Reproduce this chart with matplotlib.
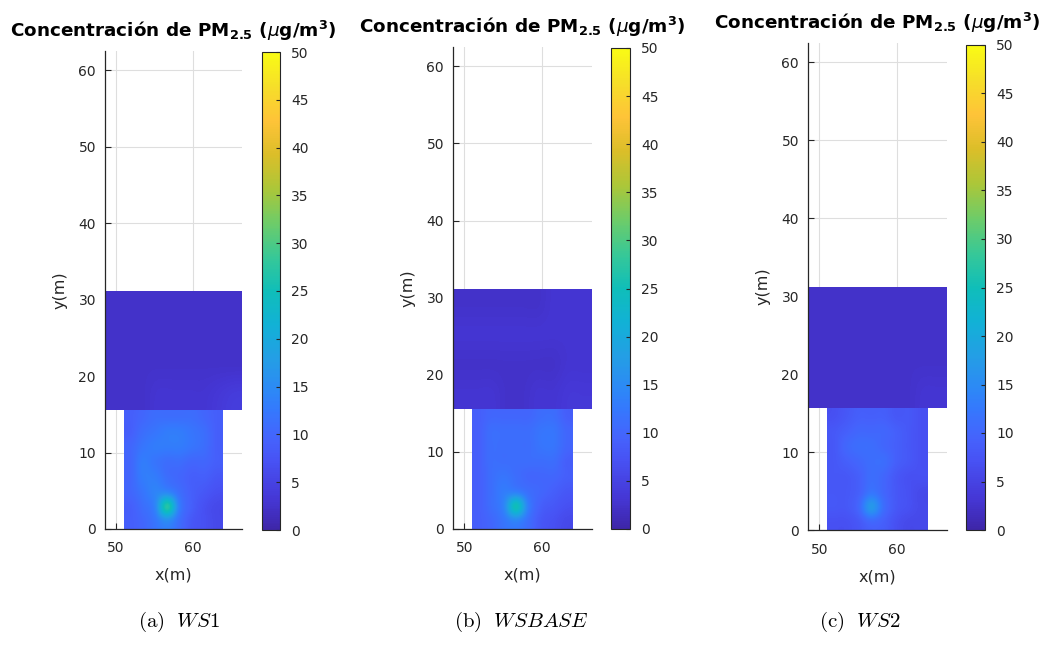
import numpy as np
import matplotlib
matplotlib.use("Agg")
import matplotlib.pyplot as plt
from matplotlib.colors import LinearSegmentedColormap

# ---------------------------------------------------------------- data
scenarios = ["WS1", "WSBASE", "WS2"]
panel_tags = ["(a)", "(b)", "(c)"]

# Domain outline (m): narrow street section below, wide section above
lower_x = (51.0, 63.9)
lower_y = (0.0, 15.6)
upper_x = (48.55, 66.45)
upper_y = (15.6, 31.1)

x_ticks = [50, 60]
y_ticks = [0, 10, 20, 30, 40, 50, 60]
cbar_ticks = [0, 5, 10, 15, 20, 25, 30, 35, 40, 45, 50]
c_min, c_max = 0, 50

# PM2.5 concentration (ug/m3), cell averages, rows from bottom to top
lower_ws1 = [
    [9, 10, 12, 15, 11, 8, 7, 6],
    [9, 11, 14, 27, 13, 9, 7, 6],
    [10, 12, 14, 14, 11, 9, 8, 7],
    [10, 13, 13, 11, 10, 9, 9, 8],
    [10, 13, 12, 11, 11, 10, 10, 9],
    [10, 12, 13, 13, 13, 12, 11, 9],
    [9, 11, 12, 13, 13, 12, 11, 9],
    [9, 10, 11, 11, 11, 11, 10, 9],
]
upper_ws1 = [
    [2.5, 2.5, 2.5, 3, 3, 3, 3, 3.5, 4],
    [2.5, 2.5, 2.5, 2.5, 2.5, 2.5, 2.5, 2.5, 2.5],
    [2.5, 2.5, 2.5, 2.5, 2.5, 2.5, 2.5, 2.5, 2.5],
    [2.5, 2.5, 2.5, 2.5, 2.5, 2.5, 2.5, 2.5, 2.5],
]

lower_wsbase = [
    [9, 10, 12, 14, 11, 8, 7, 6],
    [9, 11, 14, 25, 13, 9, 8, 7],
    [9, 11, 13, 13, 11, 10, 9, 8],
    [9, 11, 12, 11, 10, 10, 10, 9],
    [9, 11, 11, 11, 11, 11, 11, 9],
    [9, 11, 11, 11, 11, 12, 12, 10],
    [9, 11, 11, 11, 11, 12, 12, 10],
    [9, 10, 10, 10, 10, 11, 11, 9],
]
upper_wsbase = [
    [3, 3, 3, 2.5, 2.5, 3, 3, 3.5, 3.5],
    [2.5, 2.5, 2.5, 2.5, 2.5, 2.5, 2.5, 3, 3],
    [3, 3, 3, 3, 3, 3, 3, 3, 3],
    [2.5, 2.5, 2.5, 2.5, 2.5, 2.5, 3, 3, 3],
]

lower_ws2 = [
    [7, 7, 8, 10, 9, 7, 6, 6],
    [8, 8, 10, 17, 11, 8, 7, 6],
    [8, 8, 9, 12, 10, 8, 7, 6],
    [8, 8, 9, 11, 10, 8, 7, 7],
    [8, 9, 10, 11, 11, 9, 8, 7],
    [8, 10, 11, 11, 10, 9, 8, 7],
    [8, 9, 10, 10, 10, 9, 8, 7],
    [7, 8, 9, 9, 9, 8, 8, 7],
]
upper_ws2 = [
    [2.5, 2.5, 2.5, 2.5, 2.5, 2.5, 2.5, 3, 3],
    [2.5, 2.5, 2.5, 2.5, 2.5, 2.5, 2.5, 2.5, 2.5],
    [2.5, 2.5, 2.5, 2.5, 2.5, 2.5, 2.5, 2.5, 2.5],
    [2.5, 2.5, 2.5, 2.5, 2.5, 2.5, 2.5, 2.5, 2.5],
]

lower_fields = [lower_ws1, lower_wsbase, lower_ws2]
upper_fields = [upper_ws1, upper_wsbase, upper_ws2]

# ---------------------------------------------------------------- colormap
parula_stops = [
    (0.000, (0.2422, 0.1504, 0.6603)),
    (0.0625, (0.2704, 0.2138, 0.8346)),
    (0.143, (0.2810, 0.3228, 0.9579)),
    (0.1875, (0.2710, 0.3860, 0.9898)),
    (0.250, (0.2066, 0.4743, 0.9926)),
    (0.286, (0.1786, 0.5289, 0.9682)),
    (0.357, (0.1400, 0.6200, 0.9000)),
    (0.429, (0.0689, 0.6948, 0.8394)),
    (0.500, (0.0600, 0.7450, 0.7250)),
    (0.571, (0.2161, 0.7843, 0.5923)),
    (0.643, (0.4300, 0.8000, 0.4100)),
    (0.714, (0.6720, 0.7793, 0.2227)),
    (0.786, (0.8600, 0.7450, 0.1600)),
    (0.857, (0.9970, 0.7659, 0.2199)),
    (0.930, (0.9650, 0.8750, 0.1600)),
    (1.000, (0.9769, 0.9839, 0.0805)),
]
parula = LinearSegmentedColormap.from_list("parula", parula_stops, N=256)

# ---------------------------------------------------------------- style
plt.rcParams["font.family"] = ["DejaVu Sans"]

ink = "#262626"
W, H = 1051, 645
fig = plt.figure(figsize=(W / 100, H / 100), dpi=100)


def box(x0, x1, ytop, ybot):
    """pixel box -> figure fraction rect"""
    return [x0 / W, 1 - ybot / H, (x1 - x0) / W, (ybot - ytop) / H]


axes_px = [(105, 242, 51, 529), (453, 592, 47, 529), (808, 947, 43, 530)]
cbar_px = [(262, 280, 52, 530), (611, 630, 48, 529), (966, 985, 45, 530)]
caption_cx = [179, 521, 860]

title = r"Concentración de PM$_{\mathbf{2.5}}$ ($\mu$g/m$^{\mathbf{3}}$)"

for k in range(3):
    ax = fig.add_axes(box(*axes_px[k]))
    ax.set_axisbelow(True)
    ax.grid(True, color="#dedede", linewidth=0.8)

    im = ax.imshow(np.array(lower_fields[k], dtype=float), origin="lower",
                   extent=(*lower_x, *lower_y), cmap=parula,
                   vmin=c_min, vmax=c_max, interpolation="catrom",
                   interpolation_stage="data", aspect="auto", zorder=2)
    ax.imshow(np.array(upper_fields[k], dtype=float), origin="lower",
              extent=(*upper_x, *upper_y), cmap=parula,
              vmin=c_min, vmax=c_max, interpolation="catrom",
              interpolation_stage="data", aspect="auto", zorder=2)

    ax.set_xlim(upper_x)
    ax.set_ylim(0, 62.5)
    ax.set_xticks(x_ticks)
    ax.set_yticks(y_ticks)
    for s in ("top", "right"):
        ax.spines[s].set_visible(False)
    for s in ("left", "bottom"):
        ax.spines[s].set_color(ink)
        ax.spines[s].set_linewidth(0.9)
        ax.spines[s].set_zorder(3)
    ax.tick_params(direction="in", length=4, width=0.8, color=ink,
                   labelcolor=ink, labelsize=10)
    ax.tick_params(axis="y", pad=6.5)
    ax.tick_params(axis="x", pad=9)
    ax.set_xlabel("x(m)", fontsize=11.5, color=ink, labelpad=9)
    ax.set_ylabel("y(m)", fontsize=11.5, color=ink, labelpad=8)
    ax.set_title(title, fontsize=13.2, fontweight="bold", color="black", pad=10)

    cax = fig.add_axes(box(*cbar_px[k]))
    cb = fig.colorbar(im, cax=cax, ticks=cbar_ticks)
    cb.outline.set_edgecolor(ink)
    cb.outline.set_linewidth(0.8)
    cax.tick_params(direction="in", length=3, width=0.8, color=ink,
                    labelcolor=ink, labelsize=10, pad=8)

    fig.text(caption_cx[k] / W, 1 - 622 / H,
             r"$\mathrm{" + panel_tags[k] + r"}\ \ \mathit{" + scenarios[k] + "}$",
             ha="center", va="center", fontsize=15, math_fontfamily="cm")

fig.savefig("out.png", dpi=100)
